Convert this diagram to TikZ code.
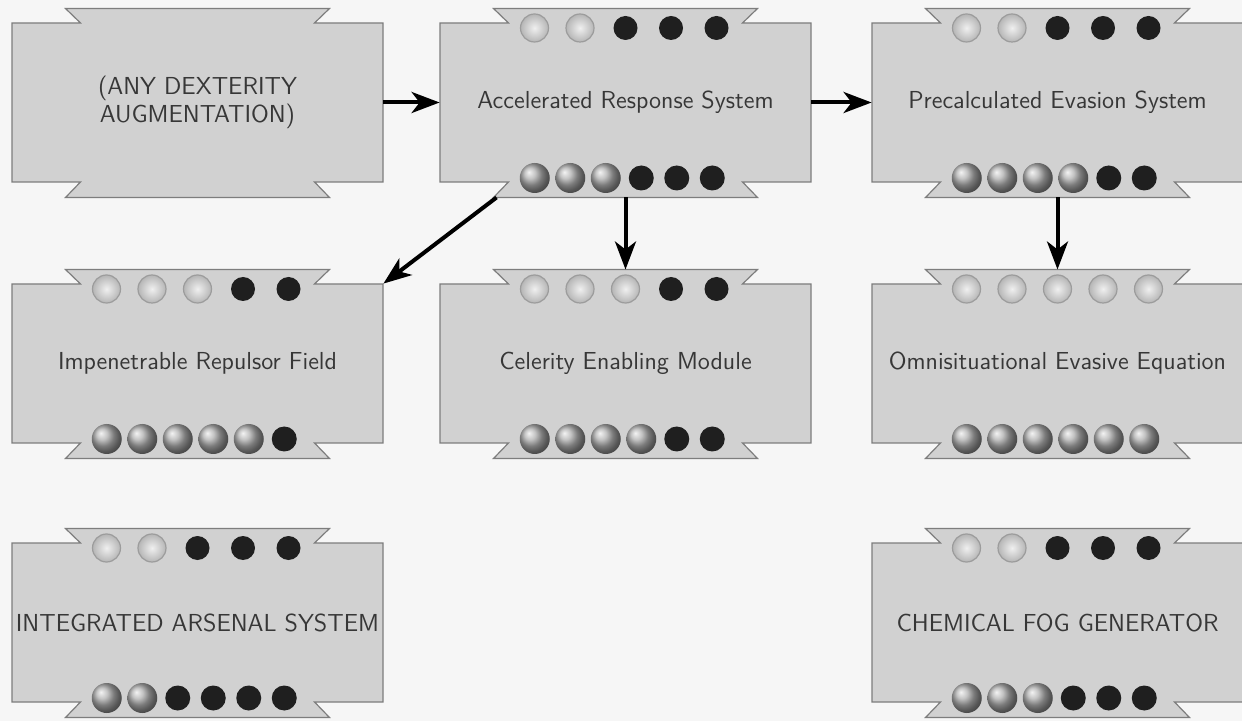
\documentclass[tikz,border=0pt]{standalone}
\usetikzlibrary{arrows.meta,shadings}

\definecolor{paper}{RGB}{246,246,246}
\definecolor{cardgray}{RGB}{209,209,209}
\definecolor{cardedge}{RGB}{125,125,125}
\definecolor{inkgray}{RGB}{55,55,55}

\tikzset{
  cardshape/.style={fill=cardgray, draw=cardedge, line width=0.6pt},
  cardtext/.style={text=inkgray, font=\sffamily\fontsize{12.3}{13.8}\selectfont,
    align=center, minimum width=185.5pt, minimum height=79.5pt, inner sep=0pt},
  lightdot/.style={shading=radial, inner color=gray!12, outer color=gray!58,
    draw=gray!78, line width=0.6pt},
  greydot/.style={shading=ball, ball color=gray!62},
  blackdot/.style={fill=black!88},
  link/.style={-{Stealth[length=14pt,width=10.5pt,inset=4pt]}, line width=2pt},
}

% card: name, x, y, text (coordinates in image pixels)
\newcommand{\techcard}[4]{%
  \begin{scope}[shift={(#2,#3)}]
    \path[cardshape] (-185.5,-79.5) -- (-117,-79.5) -- (-132,-94) -- (132,-94)
      -- (117,-79.5) -- (185.5,-79.5) -- (185.5,79.5) -- (117,79.5) -- (132,95)
      -- (-132,95) -- (-117,79.5) -- (-185.5,79.5) -- cycle;
    \coordinate (#1-top) at (0,-94);
    \coordinate (#1-bot) at (0,95);
    \coordinate (#1-botleft) at (-129,95);
  \end{scope}
  \node[cardtext] (#1) at (#2,#3) {#4};
}

% dots: x, y, light ones (of 5 on top), grey ones (of 6 below)
\newcommand{\techdots}[4]{%
  \foreach \k in {1,...,5}{
    \ifnum\k>#3 \def\dotkind{blackdot}\def\dotrad{12}\else\def\dotkind{lightdot}\def\dotrad{14}\fi
    \path[\dotkind] ({#1+45.5*(\k-3)},{#2-74.5}) circle[radius=\dotrad];
  }
  \foreach \k in {1,...,6}{
    \ifnum\k>#4 \def\dotkind{blackdot}\def\dotrad{12.5}\else\def\dotkind{greydot}\def\dotrad{15}\fi
    \path[\dotkind] ({#1-2+35.5*(\k-3.5)},{#2+75.5}) circle[radius=\dotrad];
  }
}

\begin{document}
\begin{tikzpicture}[x=0.5pt, y=-0.5pt]
  \useasboundingbox (0,0) rectangle (1242,721);
  \clip (0,0) rectangle (1242,721);
  \fill[paper] (0,0) rectangle (1242,721);

  % first row
  \techcard{anydex}{197.5}{102.5}{(ANY DEXTERITY\\AUGMENTATION)}
  \techcard{accel}{625.5}{102.5}{Accelerated Response System}
  \techdots{625.5}{102.5}{2}{3}
  \techcard{precalc}{1057.5}{102.5}{Precalculated Evasion System}
  \techdots{1057.5}{102.5}{2}{4}

  % second row
  \techcard{repulsor}{197.5}{363.5}{Impenetrable Repulsor Field}
  \techdots{197.5}{363.5}{3}{5}
  \techcard{celerity}{625.5}{363.5}{Celerity Enabling Module}
  \techdots{625.5}{363.5}{3}{4}
  \techcard{omni}{1057.5}{363.5}{Omnisituational Evasive Equation}
  \techdots{1057.5}{363.5}{5}{6}

  % third row
  \techcard{arsenal}{197.5}{622.5}{INTEGRATED ARSENAL SYSTEM}
  \techdots{197.5}{622.5}{2}{2}
  \techcard{fog}{1057.5}{622.5}{CHEMICAL FOG GENERATOR}
  \techdots{1057.5}{622.5}{2}{3}

  % links
  \draw[link] (anydex.east) -- (accel.west);
  \draw[link] (accel.east) -- (precalc.west);
  \draw[link] (accel-botleft) -- (repulsor.north east);
  \draw[link] (accel-bot) -- (celerity-top);
  \draw[link] (precalc-bot) -- (omni-top);
\end{tikzpicture}
\end{document}
